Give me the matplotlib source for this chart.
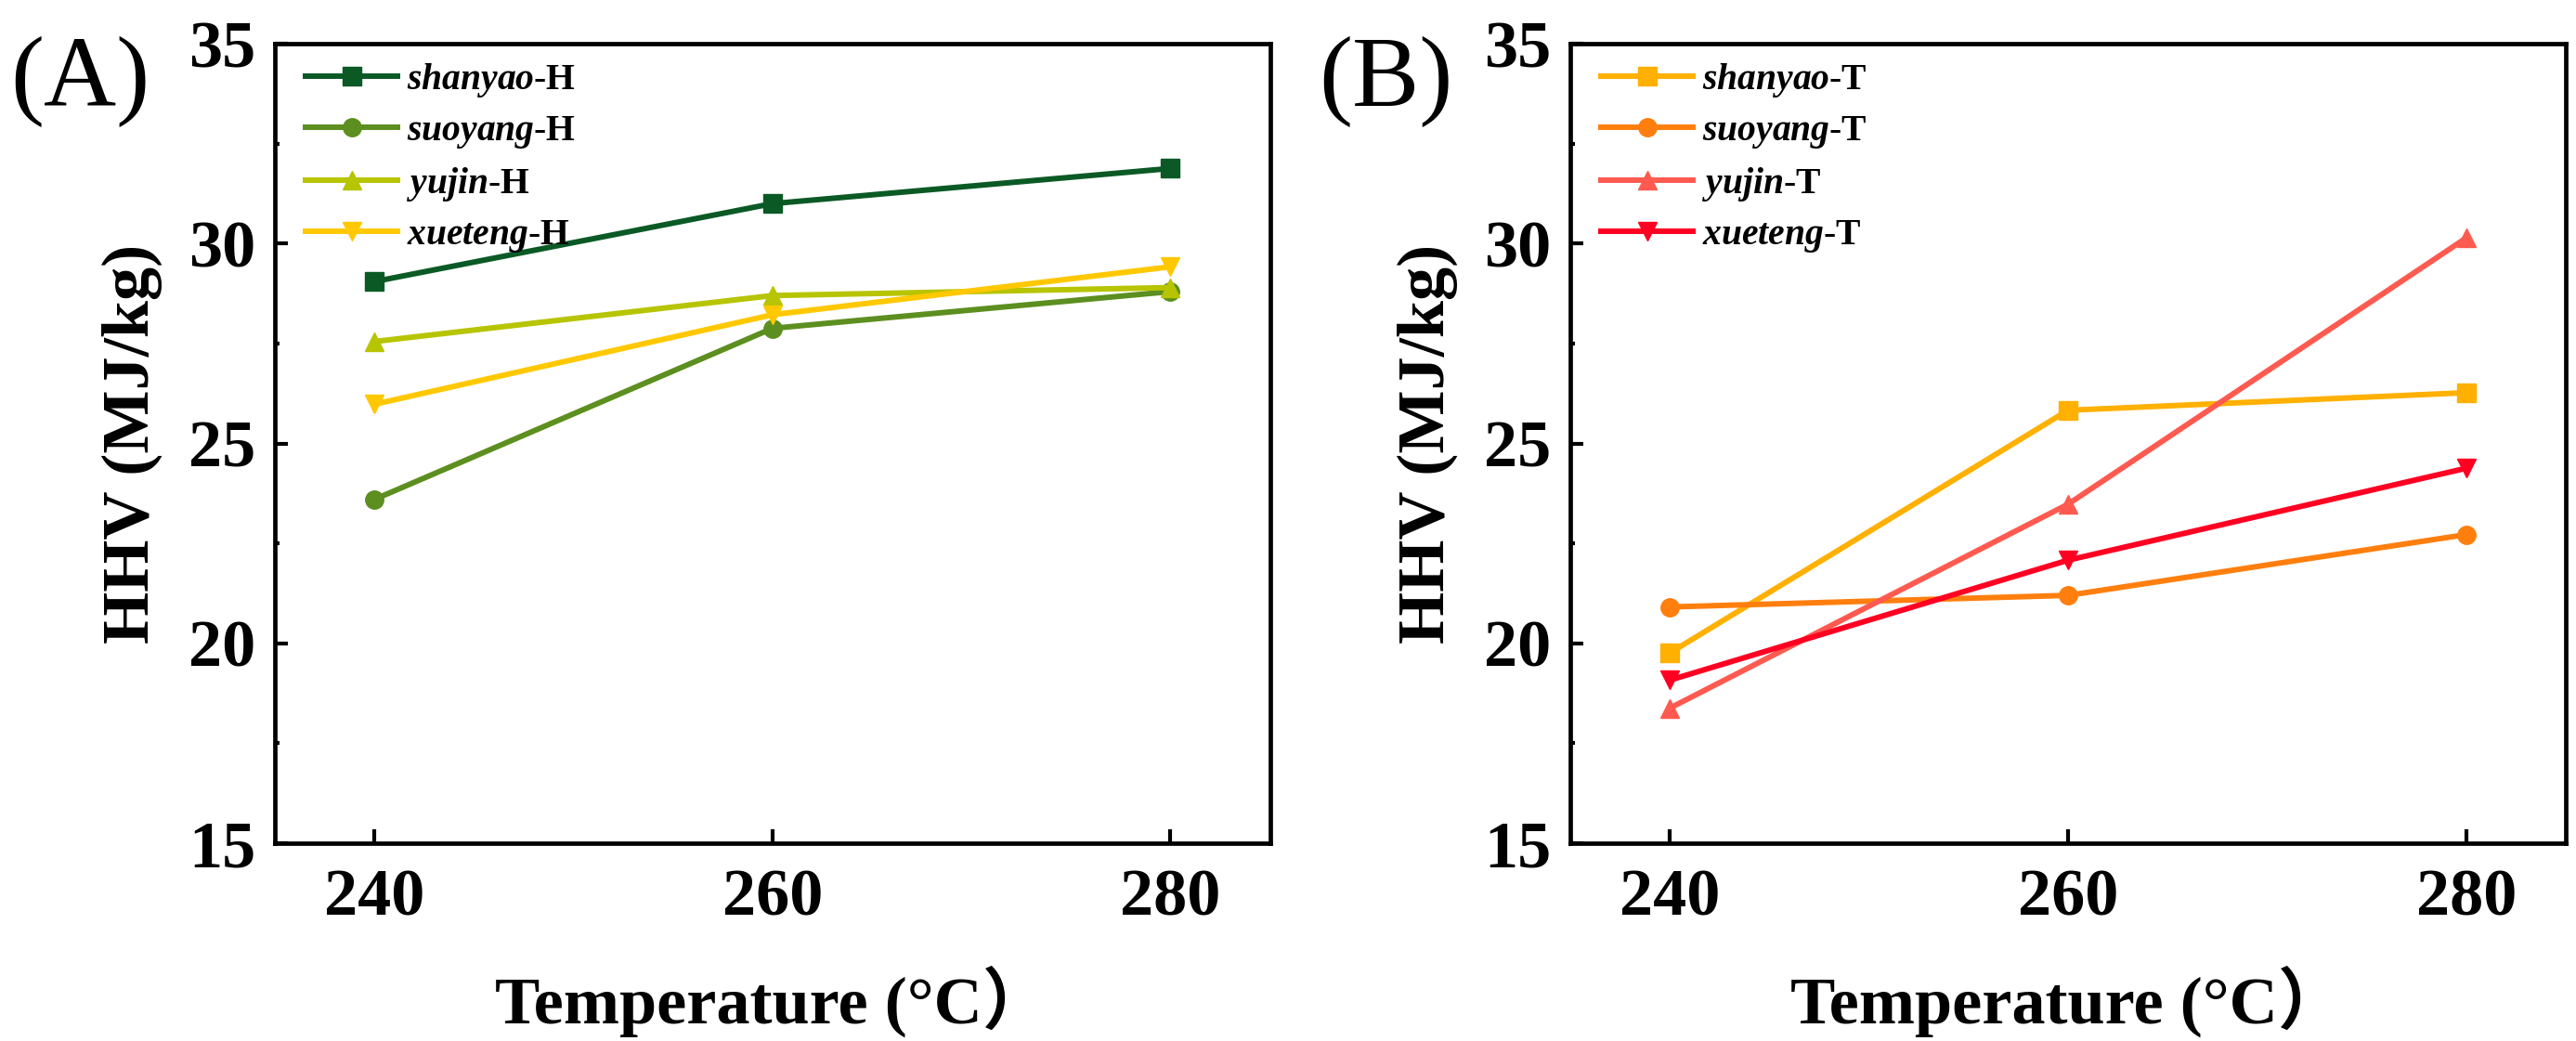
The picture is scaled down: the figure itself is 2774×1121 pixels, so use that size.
import matplotlib
matplotlib.use("Agg")
import matplotlib.pyplot as plt
from matplotlib.ticker import MultipleLocator

plt.rcParams['font.family'] = ['Liberation Serif', 'Noto Sans CJK SC']
plt.rcParams['mathtext.fontset'] = 'custom'
plt.rcParams['mathtext.it'] = 'Liberation Serif:bold:italic'
plt.rcParams['mathtext.rm'] = 'Liberation Serif:bold'

temps = [240, 260, 280]

# Panel A (H)
names_a = ['shanyao', 'suoyang', 'yujin', 'xueteng']
shanyao_h = [29.05, 31.0, 31.88]
suoyang_h = [23.6, 27.88, 28.8]
yujin_h = [27.55, 28.7, 28.9]
xueteng_h = [25.98, 28.22, 29.42]

# Panel B (T)
shanyao_t = [19.76, 25.83, 26.27]
suoyang_t = [20.91, 21.2, 22.72]
yujin_t = [18.38, 23.48, 30.14]
xueteng_t = [19.08, 22.08, 24.38]

colors_a = ['#0B5A26', '#5C8F1F', '#B7C400', '#FFC800']
colors_b = ['#FFB000', '#FF7F0E', '#FF5A50', '#FF0022']
markers = ['s', 'o', '^', 'v']

fig = plt.figure(figsize=(27.74, 11.21), dpi=100)
axA = fig.add_axes([0.1067, 0.190, 0.3863, 0.768])
axB = fig.add_axes([0.6096, 0.190, 0.3864, 0.768])

series_a = [shanyao_h, suoyang_h, yujin_h, xueteng_h]
series_b = [shanyao_t, suoyang_t, yujin_t, xueteng_t]

def style(ax):
    ax.set_xlim(235, 285)
    ax.set_ylim(15, 35)
    ax.set_xticks(temps)
    ax.yaxis.set_major_locator(MultipleLocator(5))
    ax.yaxis.set_minor_locator(MultipleLocator(2.5))
    for s in ax.spines.values():
        s.set_linewidth(3.4)
    ax.tick_params(axis='both', which='major', direction='in', length=11, width=3,
                   labelsize=52)
    ax.tick_params(axis='y', which='major', length=10)
    ax.tick_params(axis='y', which='minor', direction='in', length=3.5, width=3)
    ax.tick_params(axis='y', which='major', pad=15)
    ax.tick_params(axis='x', which='major', pad=20)
    for lab in ax.get_xticklabels() + ax.get_yticklabels():
        lab.set_fontweight('bold')
    ax.set_xlabel('Temperature (°C）', fontsize=52, fontweight='bold', labelpad=28)
    ax.set_ylabel('HHV (MJ/kg)', fontsize=52, fontweight='bold', labelpad=20)

for ax, series, cols, suffix in [(axA, series_a, colors_a, 'H'), (axB, series_b, colors_b, 'T')]:
    for name, vals, c, m in zip(names_a, series, cols, markers):
        ax.plot(temps, vals, color=c, marker=m, markersize=14, linewidth=4.3,
                label=r'$\mathit{%s}$-%s' % (name, suffix))
    style(ax)
    leg = ax.legend(loc='upper left', bbox_to_anchor=(0.031, 0.978), frameon=False,
                    borderpad=0, borderaxespad=0, handlelength=2.5, handletextpad=0.25,
                    labelspacing=0.4, prop={'family': 'Liberation Serif', 'weight': 'bold', 'size': 28.5})

fig.text(0.004, 0.965, '(A)', fontsize=78, va='top', ha='left')
fig.text(0.512, 0.965, '(B)', fontsize=78, va='top', ha='left')

fig.savefig('out.png', dpi=100)
